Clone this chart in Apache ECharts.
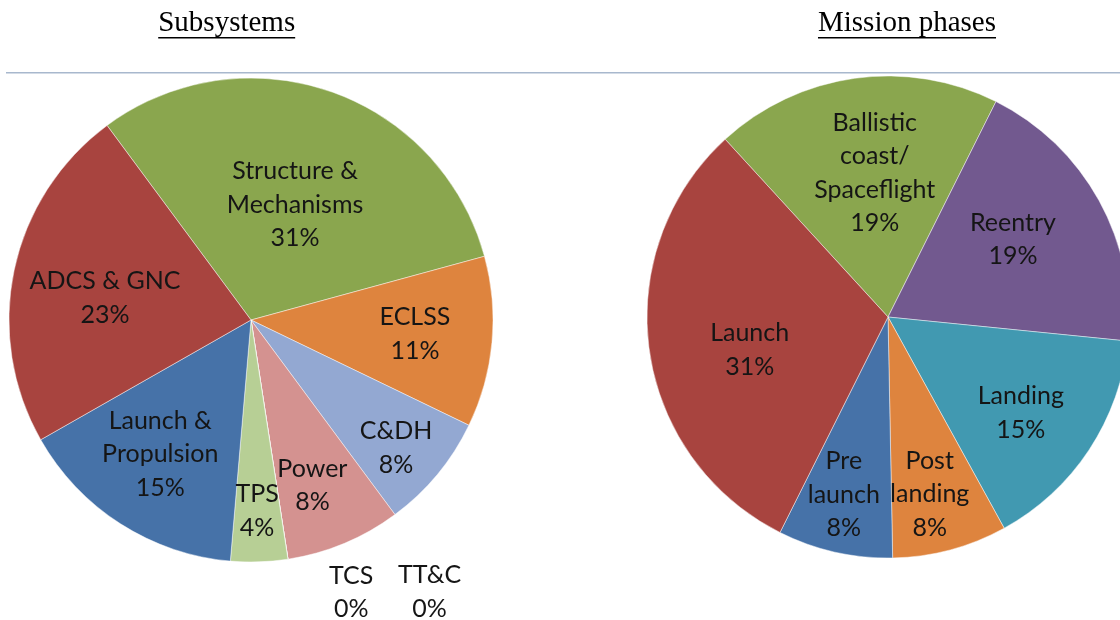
<!DOCTYPE html>
<html>
<head>
<meta charset="utf-8">
<script src="https://cdn.jsdelivr.net/npm/echarts@6/dist/echarts.min.js"></script>
<style>
  html, body { margin: 0; padding: 0; background: #fff; }
  #chart { width: 1120px; height: 620px; }
</style>
</head>
<body>
<div id="chart"></div>
<script>
// 子系统 - subsystems (clockwise from the ADCS / Structure border)
const subsystemNames = ['Structure &\nMechanisms', 'ECLSS', 'C&DH', 'Power', 'TCS', 'TT&C', 'TPS', 'Launch &\nPropulsion', 'ADCS & GNC'];
const subsystemShares = [30.9, 11.4, 7.7, 7.7, 0, 0, 3.8, 15.4, 23.1];

// mission phases (clockwise from the Launch / Ballistic border)
const phaseNames = ['Ballistic\ncoast/\nSpaceflight', 'Reentry', 'Landing', 'Post\nlanding', 'Pre\nlaunch', 'Launch'];
const phaseShares = [19.2, 19.2, 15.4, 7.7, 7.7, 30.8];

const chartTitles = ['Subsystems', 'Mission phases'];

// styles
const subsystemColors = ['#8aa64e', '#de843e', '#93a8d2', '#d49290', '#4f81bd', '#c0504d', '#b7cf95', '#4672a8', '#a8443f'];
const phaseColors = ['#8aa64e', '#72598f', '#4199b1', '#de843e', '#4672a8', '#a8443f'];
// label nudge per slice: [turn in degrees, radius fraction]
const subsystemLabelNudge = [[1.8, 0.51], [-0.4, 0.68], [1.8, 0.80], [2.3, 0.73], [-11.4, 1.20], [-24.5, 1.345], [0.1, 0.79], [1.4, 0.67], [-3.3, 0.61]];
const phaseLabelNudge = [[2.7, 0.60], [-3, 0.61], [2.4, 0.68], [1.7, 0.755], [1.2, 0.76], [-5.4, 0.59]];

const labelFont = 'Lato, "Noto Sans", sans-serif';
const titleFont = '"Liberation Serif", "Times New Roman", serif';

const pies = [
    { names: subsystemNames, values: subsystemShares, colors: subsystemColors, nudge: subsystemLabelNudge, cx: 251, cy: 320, r: 242, start: 126.5, titleX: 226.7 },
    { names: phaseNames, values: phaseShares, colors: phaseColors, nudge: phaseLabelNudge, cx: 888, cy: 317, r: 241, start: 132.5, titleX: 907 }
];

// angle in degrees clockwise from 12 o'clock for the middle of slice i, plus nudge
function labelPoint(pie, i) {
    const total = pie.values.reduce((a, b) => a + b, 0);
    let before = 0;
    for (let k = 0; k < i; k++) before += pie.values[k];
    const mid = (90 - pie.start) + (before + pie.values[i] / 2) / total * 360 + pie.nudge[i][0];
    const rad = mid * Math.PI / 180;
    const dist = pie.nudge[i][1] * pie.r;
    return { x: pie.cx + dist * Math.sin(rad), y: pie.cy - dist * Math.cos(rad) };
}

function textWidth(text, font) {
    const ctx = document.createElement('canvas').getContext('2d');
    ctx.font = font;
    return ctx.measureText(text).width;
}

const titleSize = 29;
const graphics = [{
    type: 'line',
    shape: { x1: 6, y1: 72.7, x2: 1120, y2: 72.7 },
    style: { stroke: '#a8b8cd', lineWidth: 1.4 },
    silent: true
}];
pies.forEach((pie, idx) => {
    const w = textWidth(chartTitles[idx], titleSize + 'px ' + titleFont);
    graphics.push({
        type: 'text',
        x: pie.titleX,
        y: 23.5,
        style: {
            text: chartTitles[idx],
            font: titleSize + 'px ' + titleFont,
            fill: '#000',
            align: 'center',
            verticalAlign: 'middle'
        },
        silent: true
    });
    graphics.push({
        type: 'line',
        shape: { x1: pie.titleX - w / 2, y1: 37.7, x2: pie.titleX + w / 2, y2: 37.7 },
        style: { stroke: '#000', lineWidth: 1.6 },
        silent: true
    });
});

const myChart = echarts.init(document.getElementById('chart'), null, { renderer: 'canvas' });

let option = {
    animation: false,
    backgroundColor: '#fff',
    graphic: graphics,
    series: pies.map((pie, idx) => ({
        type: 'pie',
        center: [pie.cx, pie.cy],
        radius: [0, pie.r],
        startAngle: pie.start,
        clockwise: true,
        avoidLabelOverlap: false,
        minShowLabelAngle: 0,
        silent: true,
        itemStyle: {
            borderColor: 'rgba(255,255,255,0.45)',
            borderWidth: 1
        },
        label: {
            show: true,
            position: 'inside',
            color: '#151515',
            fontFamily: labelFont,
            fontSize: 25,
            lineHeight: 33.5,
            align: 'center',
            formatter: p => p.name + '\n' + Math.round(p.percent) + '%'
        },
        labelLine: { show: false },
        labelLayout: params => {
            const pt = labelPoint(pie, params.dataIndex);
            return { x: pt.x, y: pt.y, align: 'center', verticalAlign: 'middle' };
        },
        data: pie.names.map((name, i) => ({
            name: name,
            value: pie.values[i],
            itemStyle: { color: pie.colors[i] }
        }))
    }))
};

myChart.setOption(option);
</script>
</body>
</html>
